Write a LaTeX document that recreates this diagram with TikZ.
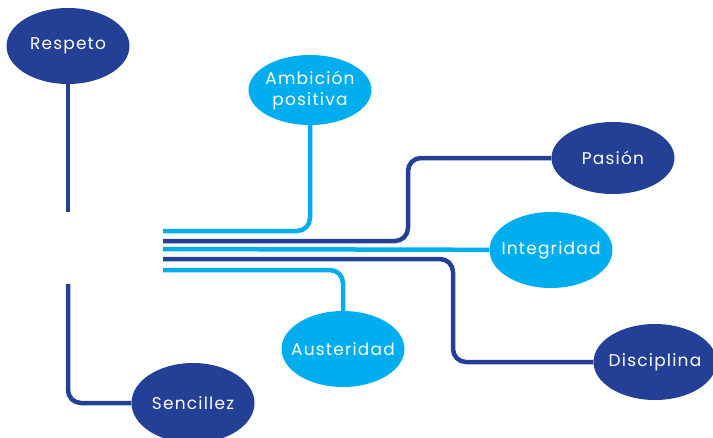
\documentclass[tikz,border=0pt]{standalone}
\usepackage{fontspec}
\setmainfont{Poppins}[LetterSpace=7]
\usetikzlibrary{shapes.geometric}
\definecolor{navy}{RGB}{35,63,150}
\definecolor{sky}{RGB}{0,174,239}
\begin{document}
\begin{tikzpicture}[x=1pt,y=-1pt,
  bubble/.style={ellipse, minimum width=123pt, minimum height=76pt, inner sep=-14pt,
    text=white, font=\fontsize{17}{21}\selectfont, align=center},
  darkbubble/.style={bubble, fill=navy},
  lightbubble/.style={bubble, fill=sky},
  darkline/.style={draw=navy, line width=4.5pt, rounded corners=13pt},
  lightline/.style={draw=sky, line width=4.5pt, rounded corners=13pt}]
\useasboundingbox (0,0) rectangle (713,437);

% value bubbles
\node[darkbubble]  (res) at (68,46)   {Respeto};
\node[lightbubble, minimum height=70pt] (amb) at (310,90) {Ambición\\positiva};
\node[darkbubble, minimum height=72pt]  (pas) at (613,158) {Pasión};
\node[lightbubble] (int) at (551,250) {Integridad};
\node[darkbubble]  (dis) at (655,362) {Disciplina};
\node[lightbubble] (aus) at (343,349) {Austeridad};
\node[darkbubble, minimum height=80pt]  (sen) at (193,403) {Sencillez};

% loose ends and bends of the connectors
\coordinate (s1) at (163,231);
\coordinate (s2) at (163,241);
\coordinate (s3) at (163,249);
\coordinate (s4) at (163,259);
\coordinate (s5) at (163,270);
\coordinate (k2) at (408,200);
\coordinate (k4) at (453,300);
\coordinate (rend) at (68,212);
\coordinate (send) at (68,284);

% bundle of connectors
\draw[lightline] (s1) -| (amb);
\draw[darkline]  (s2) -| (k2) |- (pas);
\draw[lightline] (s3) -- (int);
\draw[darkline]  (s4) -| (k4) |- (dis);
\draw[lightline] (s5) -| (aus);

% left column
\draw[darkline] (res) -- (rend);
\draw[darkline] (send) |- (sen);
\end{tikzpicture}
\end{document}
